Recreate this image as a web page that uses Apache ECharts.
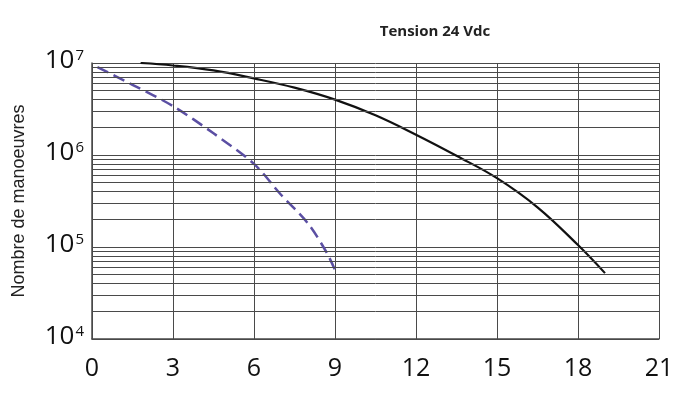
<!DOCTYPE html>
<html>
<head>
<meta charset="utf-8">
<script src="https://cdn.jsdelivr.net/npm/echarts@6/dist/echarts.min.js"></script>
<style>html,body{margin:0;padding:0;background:#fff;}#c{width:693px;height:394px;}</style>
</head>
<body>
<div id="c"></div>
<script>
// Data
const titleText = 'Tension 24 Vdc';
const yAxisName = 'Nombre de manoeuvres';
const xTicks = [0, 3, 6, 9, 12, 15, 18, 21];
const yDecades = [4, 5, 6, 7];
const solidX = [1.8, 3, 4.5, 6, 7.5, 9, 10.5, 12, 13.5, 15, 16.5, 18, 19];
const solidY = [1.0e7, 9.4e6, 8.3e6, 6.8e6, 5.4e6, 4.0e6, 2.7e6, 1.66e6, 9.8e5, 5.6e5, 2.7e5, 1.05e5, 5.2e4];
const dashX = [0.2, 1.5, 3, 4.5, 6, 7, 8, 8.7, 9.05];
const dashY = [9.0e6, 5.8e6, 3.4e6, 1.72e6, 8.0e5, 3.7e5, 1.8e5, 8.6e4, 5.2e4];
const minorMultipliers = [2, 3, 4, 5, 6, 7, 8, 9];

const minorValues = [];
for (let i = 0; i < yDecades.length - 1; i++) {
  for (const m of minorMultipliers) minorValues.push(m * Math.pow(10, yDecades[i]));
}

const chart = echarts.init(document.getElementById('c'), null, {renderer: 'canvas'});
const gridColor = '#4a4a4a';
chart.setOption({
  backgroundColor: '#ffffff',
  animation: false,
  title: {
    text: titleText,
    left: 430, top: 19, textAlign: 'center',
    textStyle: {fontFamily: 'Open Sans', fontWeight: 'bold', fontSize: 15, color: '#222'}
  },
  grid: {left: 92, right: 34, top: 63, bottom: 55},
  xAxis: {
    type: 'value', min: xTicks[0], max: xTicks[xTicks.length - 1], interval: 3,
    axisLine: {show: true, lineStyle: {color: gridColor, width: 1.5}},
    axisTick: {show: false},
    splitLine: {show: true, lineStyle: {color: gridColor, width: 1}},
    axisLabel: {fontFamily: 'Open Sans', fontSize: 25, color: '#111', margin: 17}
  },
  yAxis: {
    type: 'log', logBase: 10,
    min: Math.pow(10, yDecades[0]), max: Math.pow(10, yDecades[yDecades.length - 1]),
    name: yAxisName, nameLocation: 'middle', nameGap: 64, nameRotate: 90,
    nameTextStyle: {fontFamily: 'Liberation Sans', fontSize: 18, color: '#222', padding: [0, 0, 0, 0]},
    axisLine: {show: true, lineStyle: {color: gridColor, width: 1.5}},
    axisTick: {show: false},
    splitLine: {show: true, lineStyle: {color: gridColor, width: 1}},
    axisLabel: {
      margin: 8,
      formatter: function (v) { return '{b|10}{s|' + Math.round(Math.log10(v)) + '}'; },
      rich: {
        b: {fontFamily: 'Open Sans', fontSize: 26, color: '#111', verticalAlign: 'bottom', padding: [0, 1, 4, 0]},
        s: {fontFamily: 'Open Sans', fontSize: 15, color: '#111', verticalAlign: 'top', padding: [0, 0, 12, 0]}
      }
    }
  },
  series: [
    {
      type: 'line', data: [], silent: true,
      markLine: {
        silent: true, symbol: 'none', animation: false,
        label: {show: false},
        lineStyle: {color: gridColor, width: 1, type: 'solid'},
        data: minorValues.map(v => ({yAxis: v}))
      }
    },
    {
      type: 'line', showSymbol: false, smooth: 0.4,
      data: solidX.map((x, i) => [x, solidY[i]]),
      lineStyle: {color: '#111', width: 2.2}
    },
    {
      type: 'line', showSymbol: false, smooth: 0.3,
      data: dashX.map((x, i) => [x, dashY[i]]),
      lineStyle: {color: '#5b4fa3', width: 2.5, type: [12, 6]}
    }
  ]
});
</script>
</body>
</html>
